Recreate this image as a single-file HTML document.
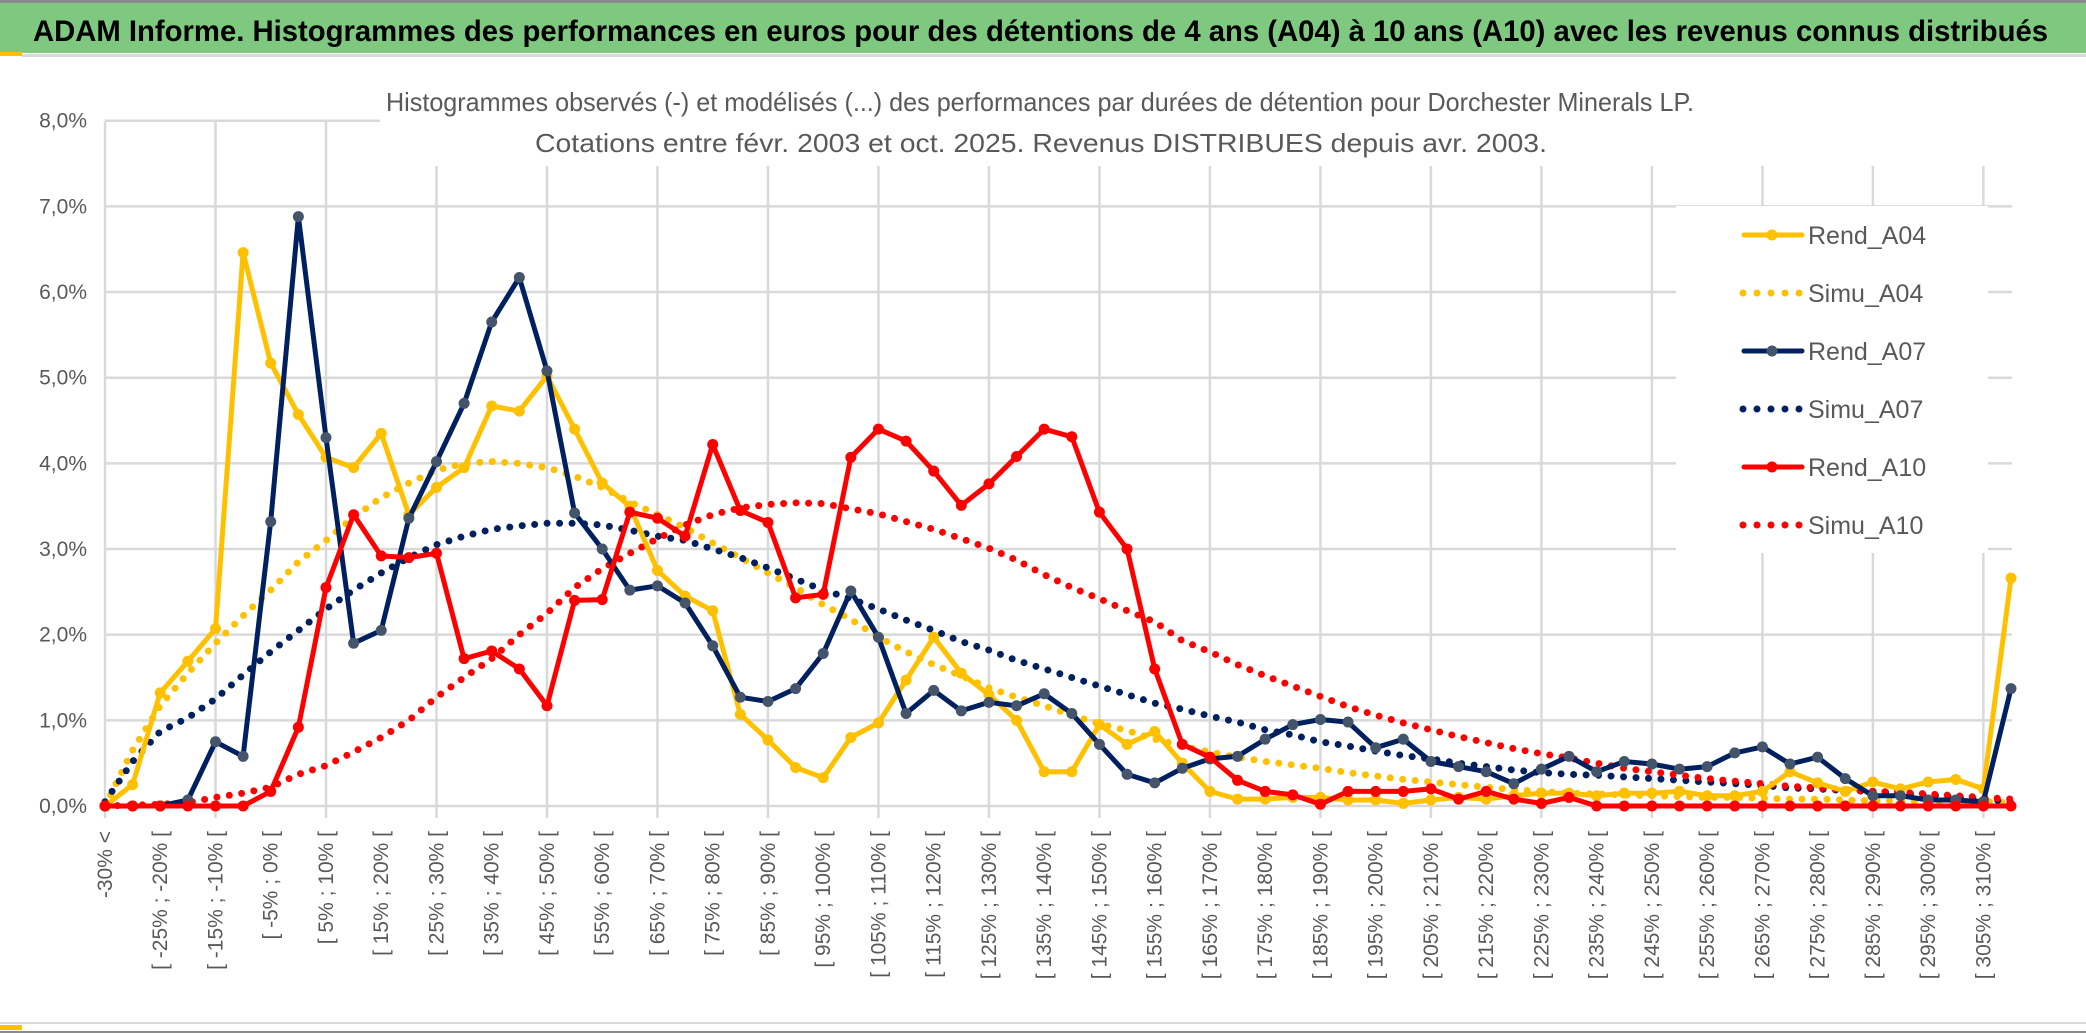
<!DOCTYPE html>
<html><head><meta charset="utf-8"><style>
html,body{margin:0;padding:0;background:#fff;}
svg{display:block;font-family:"Liberation Sans",sans-serif;}
</style></head><body>
<svg id="chart" width="2086" height="1033" viewBox="0 0 2086 1033" xmlns="http://www.w3.org/2000/svg">
<rect x="0" y="0" width="2086" height="1033" fill="#fff"/>
<rect x="0" y="0" width="2086" height="3" fill="#8a8a8a"/>
<rect x="0" y="3" width="2086" height="50" fill="#7ec87f"/>
<rect x="0" y="52" width="22" height="4" fill="#ffc000"/>
<rect x="22" y="54" width="2064" height="3" fill="#d9d9d9"/>
<text x="33" y="41" font-size="30" font-weight="bold" fill="#000" textLength="2015" lengthAdjust="spacingAndGlyphs">ADAM Informe. Histogrammes des performances en euros pour des détentions de 4 ans (A04) à 10 ans (A10) avec les revenus connus distribués</text>
<g id="grid"></g>
<rect x="380" y="60" width="1640" height="106" fill="#fff"/>
<text x="386" y="111" font-size="26" fill="#595959" textLength="1308" lengthAdjust="spacingAndGlyphs">Histogrammes observés (-) et modélisés (...) des performances par durées de détention pour Dorchester Minerals LP.</text>
<text x="535" y="152" font-size="26" fill="#595959" textLength="1012" lengthAdjust="spacingAndGlyphs">Cotations entre févr. 2003 et oct. 2025. Revenus DISTRIBUES depuis avr. 2003.</text>
<rect x="1676" y="206" width="312" height="347" fill="#fff"/>
<g id="axes"></g>
<g id="series"></g>
<g id="legend"></g>
<rect x="0" y="1022" width="2086" height="2" fill="#d9d9d9"/>
<rect x="0" y="1025" width="22" height="5" fill="#ffc000"/>
<rect x="0" y="1031" width="2086" height="2" fill="#8a8a8a"/>
</svg>
<script>
const tickLabels = ["-30% <","[ -25% ; -20% [","[ -15% ; -10% [","[ -5% ; 0% [","[ 5% ; 10% [","[ 15% ; 20% [","[ 25% ; 30% [","[ 35% ; 40% [","[ 45% ; 50% [","[ 55% ; 60% [","[ 65% ; 70% [","[ 75% ; 80% [","[ 85% ; 90% [","[ 95% ; 100% [","[ 105% ; 110% [","[ 115% ; 120% [","[ 125% ; 130% [","[ 135% ; 140% [","[ 145% ; 150% [","[ 155% ; 160% [","[ 165% ; 170% [","[ 175% ; 180% [","[ 185% ; 190% [","[ 195% ; 200% [","[ 205% ; 210% [","[ 215% ; 220% [","[ 225% ; 230% [","[ 235% ; 240% [","[ 245% ; 250% [","[ 255% ; 260% [","[ 265% ; 270% [","[ 275% ; 280% [","[ 285% ; 290% [","[ 295% ; 300% [","[ 305% ; 310% ["];
const yTicks = [0,1,2,3,4,5,6,7,8];
const yTickLabels = ["0,0%","1,0%","2,0%","3,0%","4,0%","5,0%","6,0%","7,0%","8,0%"];
const rendA04 = [0,0.25,1.32,1.69,2.07,6.46,5.17,4.57,4.07,3.95,4.35,3.4,3.72,3.95,4.67,4.61,5.02,4.4,3.77,3.5,2.75,2.45,2.28,1.07,0.77,0.45,0.33,0.8,0.97,1.47,1.97,1.55,1.3,1.0,0.4,0.4,0.95,0.72,0.87,0.5,0.17,0.08,0.08,0.1,0.1,0.07,0.07,0.03,0.07,0.1,0.08,0.12,0.15,0.15,0.12,0.15,0.15,0.17,0.12,0.12,0.17,0.4,0.27,0.17,0.28,0.2,0.28,0.31,0.2,2.66];
const simuA04 = [0,0.65,1.17,1.55,1.9,2.22,2.52,2.85,3.1,3.37,3.6,3.77,3.92,4.0,4.02,4.0,3.95,3.85,3.72,3.55,3.4,3.25,3.07,2.9,2.72,2.55,2.35,2.18,1.97,1.8,1.65,1.52,1.38,1.27,1.17,1.06,0.96,0.88,0.78,0.7,0.63,0.57,0.52,0.48,0.44,0.39,0.35,0.31,0.28,0.25,0.22,0.19,0.17,0.15,0.14,0.13,0.12,0.11,0.1,0.1,0.09,0.08,0.08,0.07,0.06,0.06,0.05,0.05,0.05,0.04];
const rendA07 = [0,0,0,0.07,0.75,0.58,3.32,6.88,4.3,1.9,2.05,3.36,4.02,4.7,5.65,6.17,5.08,3.42,3.0,2.52,2.57,2.37,1.87,1.27,1.22,1.37,1.78,2.51,1.97,1.08,1.35,1.11,1.21,1.17,1.31,1.08,0.72,0.37,0.27,0.44,0.55,0.58,0.78,0.95,1.01,0.98,0.68,0.78,0.52,0.46,0.4,0.26,0.43,0.58,0.4,0.52,0.49,0.43,0.46,0.62,0.69,0.49,0.57,0.32,0.12,0.12,0.07,0.07,0.05,1.37];
const simuA07 = [0.05,0.52,0.87,1.03,1.25,1.53,1.8,2.05,2.3,2.52,2.72,2.9,3.05,3.15,3.23,3.27,3.3,3.3,3.28,3.22,3.15,3.1,3.0,2.9,2.78,2.65,2.52,2.42,2.3,2.17,2.05,1.92,1.82,1.7,1.6,1.5,1.4,1.3,1.2,1.13,1.05,0.98,0.89,0.83,0.75,0.7,0.64,0.59,0.55,0.5,0.46,0.42,0.39,0.37,0.36,0.34,0.32,0.3,0.28,0.26,0.24,0.21,0.2,0.18,0.17,0.15,0.13,0.11,0.08,0.05];
const rendA10 = [0,0,0,0,0,0,0.17,0.92,2.55,3.4,2.92,2.9,2.95,1.72,1.81,1.6,1.17,2.4,2.41,3.43,3.36,3.15,4.22,3.45,3.31,2.43,2.47,4.07,4.4,4.26,3.91,3.51,3.76,4.08,4.4,4.31,3.43,3.0,1.6,0.72,0.57,0.3,0.17,0.13,0.02,0.17,0.17,0.17,0.2,0.08,0.17,0.08,0.03,0.1,0,0,0,0,0,0,0,0,0,0,0,0,0,0,0,0];
const simuA10 = [0,0.01,0.02,0.04,0.1,0.15,0.22,0.37,0.47,0.63,0.8,1.0,1.27,1.5,1.72,2.0,2.25,2.55,2.77,2.95,3.12,3.28,3.4,3.48,3.52,3.54,3.53,3.47,3.41,3.32,3.23,3.12,3.01,2.87,2.7,2.55,2.42,2.28,2.15,1.93,1.8,1.65,1.52,1.4,1.28,1.16,1.06,0.97,0.89,0.81,0.74,0.67,0.61,0.56,0.5,0.44,0.4,0.36,0.32,0.29,0.26,0.23,0.21,0.19,0.17,0.16,0.14,0.12,0.1,0.08];

const NS = "http://www.w3.org/2000/svg";
const X0 = 105, X1 = 2011, NCAT = 70, Y0 = 806, Y8 = 120.7, PLOT_R = 2012;
function xPos(i){ return X0 + i*(X1-X0)/(NCAT-1); }
function yPos(v){ return Y0 - v*(Y0-Y8)/8; }
function mk(tag, attrs, parent){ const e=document.createElementNS(NS,tag); for(const k in attrs) e.setAttribute(k,attrs[k]); parent.appendChild(e); return e; }

const grid = document.getElementById('grid');
yTicks.forEach(function(t){
  const y = yPos(t);
  const ln = mk('line',{x1:X0,x2:PLOT_R,y1:y,y2:y,stroke:'#d9d9d9','stroke-width':2.5},grid);
  
  
});
for(let i=0;i<NCAT;i+=4){
  const x = xPos(i);
  const ln = mk('line',{x1:x,x2:x,y1:yPos(8),y2:Y0+12,stroke:'#d9d9d9','stroke-width':2.5},grid);
  
  
}

const axes = document.getElementById('axes');
yTicks.forEach(function(t,k){
  const tx = mk('text',{x:87,y:yPos(t)+7,'font-size':21,fill:'#595959','text-anchor':'end'},axes);
  tx.textContent = yTickLabels[k];
  
  
});
tickLabels.forEach(function(lab,k){
  const x = xPos(k*2)+7, y = 831;
  const tx = mk('text',{x:x,y:y,'font-size':21,fill:'#595959','text-anchor':'end',transform:'rotate(-90 '+x+' '+y+')'},axes);
  tx.textContent = lab;
  
  
});

const series = document.getElementById('series');
function pts(arr){ return arr.map(function(v,i){ return xPos(i).toFixed(1)+','+yPos(v).toFixed(1); }).join(' '); }
function dotted(arr,color,name){
  const p = mk('polyline',{points:pts(arr),fill:'none',stroke:color,'stroke-width':7,'stroke-linecap':'round','stroke-dasharray':'0 12.5'},series);
  
  
}
function solid(arr,color,mcolor,name){
  const g = mk('g',{},series);
  
  
  const p = mk('polyline',{points:pts(arr),fill:'none',stroke:color,'stroke-width':5,'stroke-linejoin':'round'},g);
  
  
  arr.forEach(function(v,i){
    const c = mk('circle',{cx:xPos(i),cy:yPos(v),r:5.5,fill:mcolor},g);
    
    
  });
}
dotted(simuA04,'#ffc000','simu-a04-series');
dotted(simuA07,'#002060','simu-a07-series');
dotted(simuA10,'#ff0000','simu-a10-series');
solid(rendA04,'#ffc000','#ffc000','rend-a04-series');
solid(rendA07,'#002060','#44546a','rend-a07-series');
solid(rendA10,'#ff0000','#ff0000','rend-a10-series');

const legend = document.getElementById('legend');
const legItems = [['Rend_A04','#ffc000','#ffc000',true],['Simu_A04','#ffc000','',false],['Rend_A07','#002060','#44546a',true],['Simu_A07','#002060','',false],['Rend_A10','#ff0000','#ff0000',true],['Simu_A10','#ff0000','',false]];
legItems.forEach(function(it,k){
  const y = 235 + k*58;
  const g = mk('g',{},legend);
  
  
  if(it[3]){
    mk('line',{x1:1744,x2:1802,y1:y,y2:y,stroke:it[1],'stroke-width':5,'stroke-linecap':'round'},g);
    mk('circle',{cx:1772,cy:y,r:5.5,fill:it[2]},g);
  } else {
    mk('line',{x1:1743,x2:1802,y1:y,y2:y,stroke:it[1],'stroke-width':7,'stroke-linecap':'round','stroke-dasharray':'0 14'},g);
  }
  const tx = mk('text',{x:1808,y:y+9,'font-size':25,fill:'#595959'},g);
  tx.textContent = it[0];
});
</script>
</body></html>
